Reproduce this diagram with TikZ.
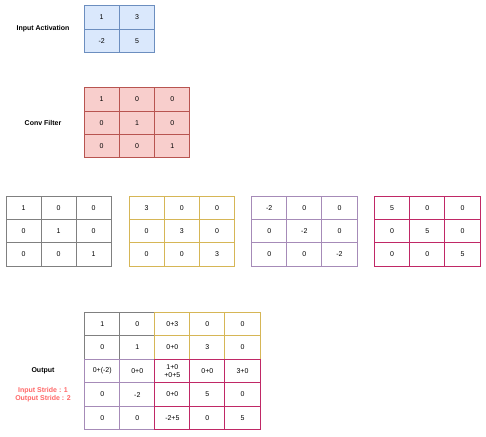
\documentclass[tikz,border=0pt]{standalone}
\usepackage{fontspec}
\setmainfont{Liberation Sans}
\definecolor{bluefill}{HTML}{DAE8FC}
\definecolor{bluedraw}{HTML}{6C8EBF}
\definecolor{redfill}{HTML}{F8CECC}
\definecolor{reddraw}{HTML}{B85450}
\definecolor{graydraw}{HTML}{808080}
\definecolor{yellowdraw}{HTML}{D6B656}
\definecolor{purpledraw}{HTML}{A68BB8}
\definecolor{crimsondraw}{HTML}{C02866}
\definecolor{stridered}{HTML}{FF6666}
\tikzset{
  cell/.style={draw, inner sep=0pt, align=center, font=\fontsize{7}{8}\selectfont, line width=0.9pt},
  lbl/.style={font=\bfseries\fontsize{7}{8}\selectfont, align=center},
  bluecell/.style={cell, fill=bluefill, draw=bluedraw},
  redcell/.style={cell, fill=redfill, draw=reddraw},
  graycell/.style={cell, draw=graydraw},
  yellowcell/.style={cell, draw=yellowdraw},
  purplecell/.style={cell, draw=purpledraw},
  crimsoncell/.style={cell, draw=crimsondraw},
}
% #1 name, #2 x0, #3 y0, #4 cell width, #5 cell height, #6 style, #7 rows
\newcommand\gridat[7]{%
  \foreach [count=\r] \row in {#7} {
    \foreach [count=\c] \t in \row {
      \node[#6, minimum width=#4pt, minimum height=#5pt] (#1-\r-\c)
        at ({#2+#4*(\c-0.5)},{#3+#5*(\r-0.5)}) {\t};
    }
  }%
}
\begin{document}
\begin{tikzpicture}[x=1pt,y=-1pt]
\useasboundingbox (0,0) rectangle (486,436);
% Input activation
\node[lbl] (lia) at (43,29) {Input Activation};
\gridat{ia}{84}{5.3}{35.3}{23.7}{bluecell}{{1,3},{-2,5}}
% Conv filter
\node[lbl] (lcf) at (43,122.7) {Conv Filter};
\gridat{cf}{84}{87.7}{35.3}{23.4}{redcell}{{1,0,0},{0,1,0},{0,0,1}}
% Four scaled kernels
\gridat{ka}{6}{196}{35}{23.33}{graycell}{{1,0,0},{0,1,0},{0,0,1}}
\gridat{kb}{129}{196}{35.2}{23.33}{yellowcell}{{3,0,0},{0,3,0},{0,0,3}}
\gridat{kc}{251.7}{196}{35.1}{23.33}{purplecell}{{-2,0,0},{0,-2,0},{0,0,-2}}
\gridat{kd}{374.3}{196}{35.3}{23.33}{crimsoncell}{{5,0,0},{0,5,0},{0,0,5}}
% Output
\node[lbl] (lout) at (43,370.7) {Output};
\node[lbl, text=stridered] (lstride) at (43,394.8) {Input Stride : 1\\Output Stride : 2};
\gridat{og}{84.7}{312.3}{35.06}{23.5}{graycell}{{{},{},{}},{{},{},{}},{{},{},{}}}
\gridat{oy}{154.82}{312.3}{35.06}{23.5}{yellowcell}{{{},{},{}},{{},{},{}},{{},{},{}}}
\gridat{op}{84.7}{359.3}{35.06}{23.5}{purplecell}{{{},{},{}},{{},{},{}},{{},{},{}}}
\gridat{oc}{154.82}{359.3}{35.06}{23.5}{crimsoncell}{{{},{},{}},{{},{},{}},{{},{},{}}}
\gridat{out}{84.7}{312.3}{35.06}{23.5}{cell, draw=none}{{1,0,0+3,0,0},{0,1,0+0,3,0},{0+(-2),0+0,{1+0\\+0+5},0+0,3+0},{0,-2,0+0,5,0},{0,0,-2+5,0,5}}
\end{tikzpicture}
\end{document}
